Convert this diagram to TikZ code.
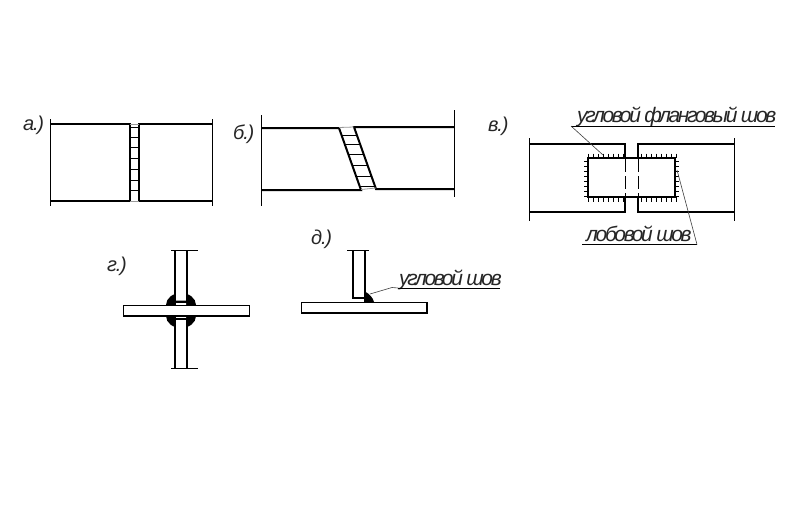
\documentclass[tikz,border=0pt]{standalone}
\usepackage{fontspec}
\newfontfamily\lblfont[LetterSpace=-11.3]{Liberation Sans}
\newfontfamily\shortfont[LetterSpace=-6]{Liberation Sans}
\tikzset{
  thick line/.style={line width=2pt, draw=black},
  thin line/.style={line width=1pt, draw=black},
  tick line/.style={line width=0.85pt, draw=black},
  hair line/.style={line width=0.6pt, draw=black!75},
  pale line/.style={line width=0.8pt, draw=black!40},
  lbl/.style={anchor=base west, inner sep=0pt, font=\shortfont\itshape\fontsize{20}{20}\selectfont, text=black!85},
  wlbl/.style={anchor=base west, inner sep=0pt, font=\lblfont\itshape\fontsize{21}{21}\selectfont, text=black!85},
  plate/.style={line width=1.7pt, draw=black, fill=white},
  weld/.style={fill=black, draw=none}
}
\begin{document}
\begin{tikzpicture}[x=1pt,y=-1pt]
\useasboundingbox[fill=white] (0,0) rectangle (791,516);
% --- a
\draw[thin line] (50,119)--(50,206) (212.5,119)--(212.5,206);
\draw[thick line] (50,124)--(130,124)--(130,201)--(50,201);
\draw[thick line] (213,124)--(139,124)--(139,201)--(213,201);
\draw[pale line] (130,124)--(139,124) (130,201)--(139,201);
\foreach \y in {127,137,147,158,169,180,190} \draw[thin line] (130,\y)--(139,\y);
% --- b
\draw[thin line] (261,115)--(261,206) (454,110)--(454,197);
\draw[thick line] (261,128)--(339,128)--(361,190)--(261,190);
\draw[thick line] (454,127)--(354,127)--(376,189)--(454,189);
\draw[pale line] (339,127.5)--(354,127) (361,189.5)--(376,188);
\foreach \xa/\xb/\y in {342/357/135,345/360/144,349/364/154,353/368/165,357/372/176,360/375/186} \draw[thin line] (\xa,\y)--(\xb,\y);
% --- v
\draw[thin line] (529,138)--(529,221) (734,138)--(734,221);
\draw[thick line] (529,144)--(625,144)--(625,158) (625,197)--(625,212)--(529,212);
\draw[thick line] (734,144)--(638,144)--(638,158) (638,197)--(638,212)--(734,212);
\foreach \x in {625,638} \draw[line width=0.9pt, dash pattern=on 13pt off 4pt] (\x,159)--(\x,197);
\draw[thick line] (588,158) rectangle (675,197);
\foreach \x in {588,593,...,623, 641,646,...,676} \draw[tick line] (\x,153.5)--(\x,158) (\x,197)--(\x,201.5);
\foreach \y in {161,166,...,196} \draw[tick line] (584,\y)--(588,\y) (675,\y)--(679,\y);
% --- g
\draw[weld] (166,305) arc[start angle=180,end angle=360,x radius=15,y radius=12]--cycle;
\draw[weld] (166,316) arc[start angle=180,end angle=0,x radius=15,y radius=12]--cycle;
\fill[white] (175,280) rectangle (187,300.5) (175,320) rectangle (187,342);
\draw[thick line] (175,250)--(175,305) (187,250)--(187,305) (175,316)--(175,368) (187,316)--(187,368);
\fill[white] (176,303) rectangle (186,305) (176,316) rectangle (186,318);
\draw[thin line] (176,301.5)--(186,301.5) (176,318.5)--(186,318.5);
\draw[thin line] (171,250)--(198,250) (171,368)--(198,368);
\draw[plate] (123.5,305.5) rectangle (249.5,316);
% --- d
\draw[weld] (364,291) .. controls (370,294) and (373,298) .. (374,302)--(364,302)--cycle;
\draw[thick line] (365,250)--(365,298)--(352.5,298)--(352.5,250);
\draw[thin line] (347,250)--(369,250);
\draw[plate] (301.5,302.5) rectangle (427,313);
% --- labels
\node[lbl] (la) at (23,130) {а.)};
\node[lbl] (lb) at (233,139) {б.)};
\node[lbl] (lv) at (488,131) {в.)};
\node[lbl] (lg) at (107,271) {г.)};
\node[lbl] (ld) at (311,244) {д.)};
\node[wlbl] (t1) at (577,122) {угловой фланговый шов};
\node[wlbl] (t2) at (586,241) {лобовой шов};
\node[wlbl] (t3) at (399,285) {угловой шов};
% --- leaders
\coordinate (u1a) at (571,126); \coordinate (u1b) at (775,126); \coordinate (w1) at (603,155);
\coordinate (u2a) at (582,244.5); \coordinate (u2b) at (697,244.5); \coordinate (w2) at (677,170);
\coordinate (u3a) at (398,288); \coordinate (u3b) at (500,288); \coordinate (w3) at (370,294); \coordinate (u3c) at (392,287.5);
\draw[thin line] (u1a)--(u1b) (u2a)--(u2b) (u3a)--(u3b);
\draw[hair line] (u1a)--(w1) (u2b)--(w2) (w3)--(u3c)--(u3a);
\end{tikzpicture}
\end{document}
